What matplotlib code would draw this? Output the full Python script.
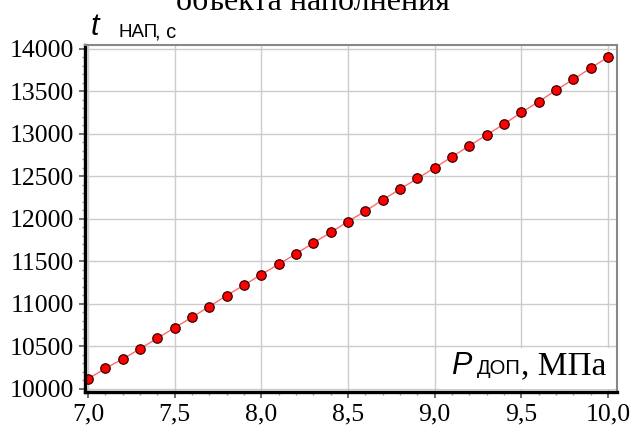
import numpy as np
import matplotlib as mpl
mpl.use('Agg')
import matplotlib.pyplot as plt
from matplotlib.ticker import MultipleLocator, FuncFormatter

# давление, МПа
p_dop = [7.0, 7.1, 7.2, 7.3, 7.4, 7.5, 7.6, 7.7, 7.8, 7.9, 8.0,
         8.1, 8.2, 8.3, 8.4, 8.5, 8.6, 8.7, 8.8, 8.9, 9.0,
         9.1, 9.2, 9.3, 9.4, 9.5, 9.6, 9.7, 9.8, 9.9, 10.0]
# время наполнения, с
t_nap = [10115, 10240, 10350, 10470, 10595, 10718, 10842, 10968, 11098, 11220, 11345,
         11466, 11588, 11717, 11840, 11969, 12091, 12224, 12350, 12476, 12601,
         12730, 12860, 12989, 13115, 13253, 13378, 13516, 13642, 13775, 13905]

serif = 'Liberation Serif'
sans = 'Liberation Sans'

W, H = 630, 425
fig = plt.figure(figsize=(6.3, 4.25), dpi=100)
ax = fig.add_axes([85/W, 33/H, 532/W, 347/H])

ax.plot(p_dop, t_nap, '-', color='#ff6a6a', lw=1.0, zorder=3)
ax.plot(p_dop, t_nap, 'o', ms=6.8, mfc='#ff0000', mec='#3a0000', mew=0.9, zorder=4)

ax.set_xlim(6.983, 10.052)
ax.set_ylim(9962, 14047)
ax.xaxis.set_major_locator(MultipleLocator(0.5))
ax.xaxis.set_minor_locator(MultipleLocator(0.1))
ax.yaxis.set_major_locator(MultipleLocator(500))
ax.yaxis.set_minor_locator(MultipleLocator(100))
ax.xaxis.set_major_formatter(FuncFormatter(lambda v, pos: ('%.1f' % v).replace('.', ',')))
ax.yaxis.set_major_formatter(FuncFormatter(lambda v, pos: '%d' % v))

ax.grid(True, which='major', color='#cccccc', lw=1.0)
ax.set_axisbelow(True)
ax.tick_params(which='major', direction='out', length=4, width=1.2, color='#555555', pad=4)
ax.tick_params(which='minor', direction='out', length=2.5, width=1.0, color='#999999')
for lab in ax.get_xticklabels() + ax.get_yticklabels():
    lab.set_fontfamily(serif)
    lab.set_fontsize(18.5)

for s in ['left', 'bottom']:
    ax.spines[s].set_linewidth(2.4)
    ax.spines[s].set_color('black')
    ax.spines[s].set_zorder(5)
for s in ['top', 'right']:
    ax.spines[s].set_linewidth(1.5)
    ax.spines[s].set_color('#888888')
    ax.spines[s].set_zorder(5)

# обрезанный заголовок сверху (в оригинале виден только низ строки)
fig.text(313/W, 1 - 10/H, 'объекта наполнения', family=serif, fontsize=23,
         ha='center', va='baseline')

def put(x, yb, txt, fam, st, sz):
    fig.text(x / W, 1 - yb / H, txt, family=fam, style=st, fontsize=sz,
             ha='left', va='baseline', zorder=10)

# подпись оси Y
put(91, 35, 't', sans, 'italic', 22)
put(118, 37, 'НАП', sans, 'normal', 13.5)
put(155, 37, ', с', sans, 'normal', 14.5)

# белая подложка под подпись оси X
ax.add_patch(plt.Rectangle((0.67, 0.008), 0.325, 0.12, transform=ax.transAxes,
                           facecolor='white', edgecolor='none', zorder=1))
put(451, 374, 'P', sans, 'italic', 22)
put(477, 374, 'ДОП', sans, 'normal', 14.5)
put(521, 374, ', МПа', serif, 'normal', 24)

fig.savefig('out.png', dpi=100)
